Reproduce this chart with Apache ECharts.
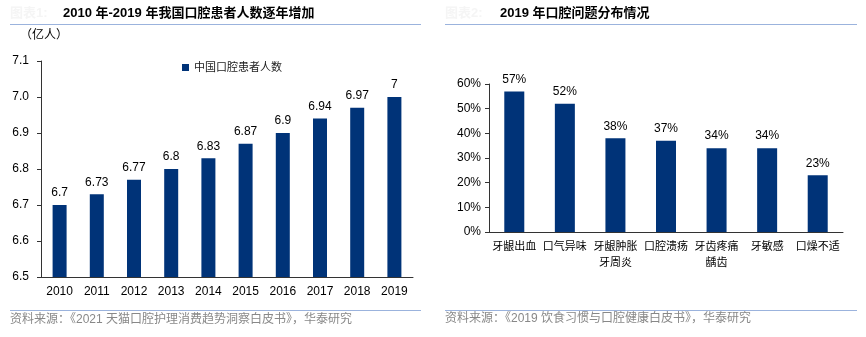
<!DOCTYPE html>
<html><head><meta charset="utf-8">
<script src="https://cdn.jsdelivr.net/npm/echarts@6/dist/echarts.min.js"></script>
<style>html,body{margin:0;padding:0;background:#fff}#c{width:866px;height:337px}</style>
</head><body><div id="c"></div>
<script>
const years = ['2010','2011','2012','2013','2014','2015','2016','2017','2018','2019'];
const patients = [6.7, 6.73, 6.77, 6.8, 6.83, 6.87, 6.9, 6.94, 6.97, 7.0];
const problems = ['牙龈出血','口气异味','牙龈肿胀\n牙周炎','口腔溃疡','牙齿疼痛\n龋齿','牙敏感','口燥不适'];
const shares = [57, 52, 38, 37, 34, 34, 23];

const NUM = '"Liberation Sans", Arial, sans-serif';
const CJK = '"Liberation Sans", "Noto Sans CJK SC", sans-serif';
const BAR = '#003378';
const LINE = '#9bb3dd';

const chart = echarts.init(document.getElementById('c'), null, {renderer: 'canvas'});
chart.setOption({
  animation: false,
  textStyle: {fontFamily: CJK},
  legend: {
    left: 177, top: 57, itemWidth: 7, itemHeight: 7, itemGap: 4,
    icon: 'rect',
    textStyle: {fontSize: 11, color: '#222', fontFamily: CJK},
    data: ['中国口腔患者人数']
  },
  grid: [
    {left: 41, right: 453, top: 61, bottom: 60},
    {left: 489, right: 23, top: 84, bottom: 105}
  ],
  xAxis: [
    {gridIndex: 0, type: 'category', data: years,
     axisLine: {lineStyle: {color: '#333'}},
     axisTick: {length: 4, lineStyle: {color: '#333'}},
     axisLabel: {color: '#000', fontSize: 12, fontFamily: NUM, margin: 9}},
    {gridIndex: 1, type: 'category', data: problems,
     axisLine: {lineStyle: {color: '#333'}},
     axisTick: {length: 4, lineStyle: {color: '#333'}},
     axisLabel: {color: '#000', fontSize: 11, fontFamily: CJK, margin: 7, interval: 0, lineHeight: 16}}
  ],
  yAxis: [
    {gridIndex: 0, type: 'value', min: 6.5, max: 7.1, interval: 0.1,
     splitLine: {show: false},
     axisLine: {show: true, lineStyle: {color: '#333'}},
     axisTick: {show: true, length: 4, lineStyle: {color: '#333'}},
     axisLabel: {color: '#000', fontSize: 12, fontFamily: NUM, margin: 12,
       formatter: v => v.toFixed(1)}},
    {gridIndex: 1, type: 'value', min: 0, max: 60, interval: 10,
     splitLine: {show: false},
     axisLine: {show: true, lineStyle: {color: '#333'}},
     axisTick: {show: true, length: 4, lineStyle: {color: '#333'}},
     axisLabel: {color: '#000', fontSize: 12, fontFamily: NUM, margin: 8, formatter: '{value}%'}}
  ],
  series: [
    {name: '中国口腔患者人数', type: 'bar', xAxisIndex: 0, yAxisIndex: 0, data: patients,
     barWidth: 14, itemStyle: {color: BAR},
     label: {show: true, position: 'top', distance: 6, color: '#000', fontSize: 12, fontFamily: NUM,
       formatter: p => String(p.value)}},
    {name: 'share', type: 'bar', xAxisIndex: 1, yAxisIndex: 1, data: shares,
     barWidth: 20, itemStyle: {color: BAR},
     label: {show: true, position: 'top', distance: 6, color: '#000', fontSize: 12, fontFamily: NUM,
       formatter: '{c}%'}}
  ],
  graphic: [
    {type: 'text', left: 10, top: 7, style: {text: '图表1:', fill: '#f5f5f5', font: 'bold 13px ' + CJK}},
    {type: 'text', left: 63, top: 7, style: {text: '2010 年-2019 年我国口腔患者人数逐年增加', fill: '#000', font: 'bold 13px ' + CJK}},
    {type: 'line', shape: {x1: 10, y1: 24.5, x2: 421, y2: 24.5}, style: {stroke: LINE, lineWidth: 1}},
    {type: 'text', left: 20, top: 30, style: {text: '（亿人）', fill: '#000', font: '12px ' + CJK}},
    {type: 'text', left: 445, top: 7, style: {text: '图表2:', fill: '#f5f5f5', font: 'bold 13px ' + CJK}},
    {type: 'text', left: 500, top: 7, style: {text: '2019 年口腔问题分布情况', fill: '#000', font: 'bold 13px ' + CJK}},
    {type: 'line', shape: {x1: 445, y1: 24.5, x2: 857, y2: 24.5}, style: {stroke: LINE, lineWidth: 1}},
    {type: 'line', shape: {x1: 10, y1: 310.5, x2: 421, y2: 310.5}, style: {stroke: LINE, lineWidth: 1}},
    {type: 'text', left: 10, top: 314, style: {text: '资料来源：《2021 天猫口腔护理消费趋势洞察白皮书》，华泰研究', fill: '#888', font: '12px ' + CJK}},
    {type: 'line', shape: {x1: 445, y1: 310.5, x2: 857, y2: 310.5}, style: {stroke: LINE, lineWidth: 1}},
    {type: 'text', left: 445, top: 313, style: {text: '资料来源：《2019 饮食习惯与口腔健康白皮书》，华泰研究', fill: '#888', font: '12px ' + CJK}}
  ]
});
</script></body></html>
